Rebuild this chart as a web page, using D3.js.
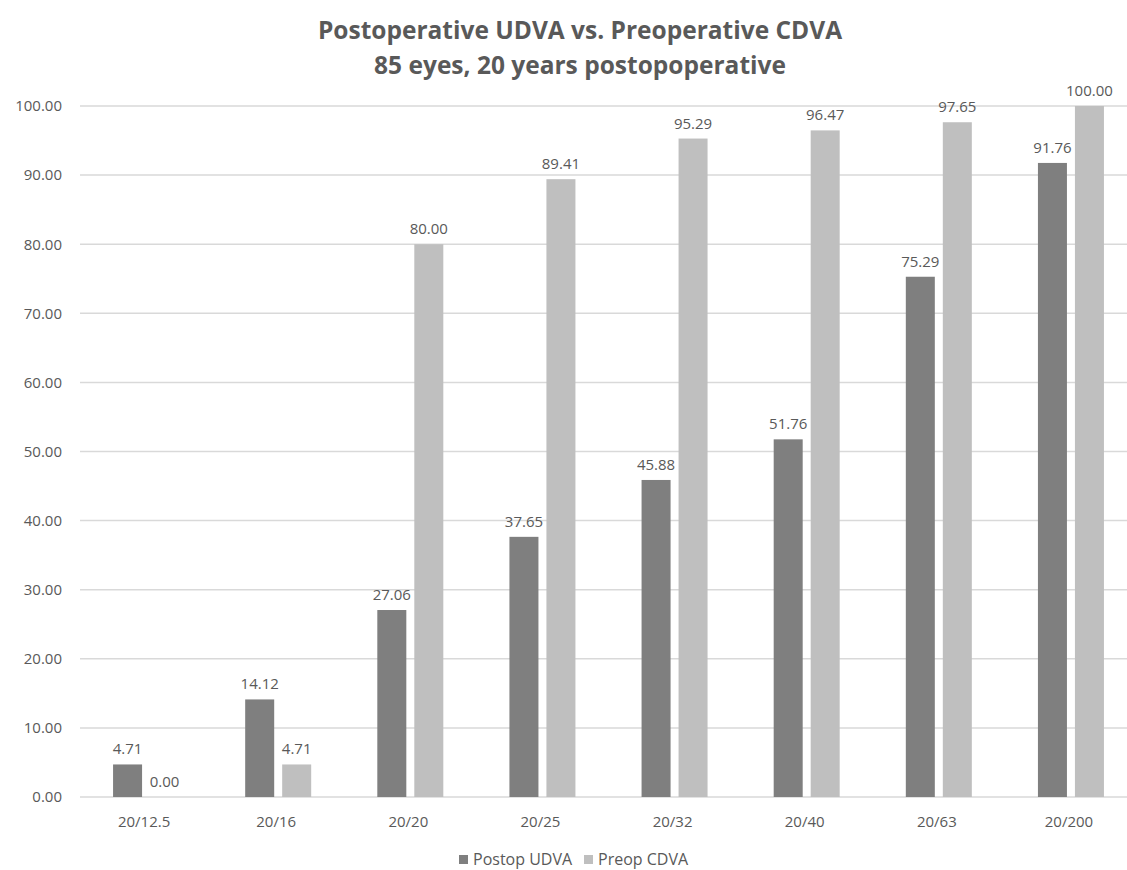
<!DOCTYPE html>
<html>
<head>
<meta charset="utf-8">
<script src="https://cdn.jsdelivr.net/npm/d3@7"></script>
<style>
  body { margin: 0; background: #fff; }
  text { font-family: "Open Sans", "Liberation Sans", sans-serif; fill: #595959; }
</style>
</head>
<body>
<svg class="chart" width="1127" height="870"></svg>
<script>
var categories = ["20/12.5", "20/16", "20/20", "20/25", "20/32", "20/40", "20/63", "20/200"];
var postopUDVA = [4.71, 14.12, 27.06, 37.65, 45.88, 51.76, 75.29, 91.76];
var preopCDVA = [0.00, 4.71, 80.00, 89.41, 95.29, 96.47, 97.65, 100.00];
var seriesNames = ["Postop UDVA", "Preop CDVA"];
var yTicks = [0, 10, 20, 30, 40, 50, 60, 70, 80, 90, 100];

var colors = ["#7f7f7f", "#bfbfbf"];

var svg = d3.select(".chart"),
  margin = { top: 106, right: -10, bottom: 73, left: 80 },
  width = +svg.attr("width") - margin.left - margin.right,
  height = +svg.attr("height") - margin.top - margin.bottom,
  g = svg.append("g").attr("transform", "translate(" + margin.left + "," + margin.top + ")");

var x = d3.scaleBand().domain(categories).range([0, width]);
var groupW = 66;
var x1 = d3.scaleBand().domain([0, 1]).range([0, groupW]).paddingInner(0.216);
var y = d3.scaleLinear().domain([0, 100]).range([height, 0]);

// title
svg.append("text")
  .attr("x", 580).attr("y", 39)
  .attr("text-anchor", "middle")
  .style("font-size", "24.5px").style("font-weight", "bold")
  .text("Postoperative UDVA vs. Preoperative CDVA");
svg.append("text")
  .attr("x", 580).attr("y", 74)
  .attr("text-anchor", "middle")
  .style("font-size", "24.5px").style("font-weight", "bold")
  .text("85 eyes, 20 years postopoperative");

// grid
g.append("g")
  .selectAll("line")
  .data(yTicks)
  .enter().append("line")
  .attr("x1", 0).attr("x2", width)
  .attr("y1", function(d) { return y(d); })
  .attr("y2", function(d) { return y(d); })
  .attr("stroke", "#d9d9d9")
  .attr("stroke-width", 1.5);

// y axis
var yAxis = g.append("g")
  .call(d3.axisLeft(y).tickValues(yTicks).tickSize(0).tickPadding(18)
    .tickFormat(function(d) { return d3.format(".2f")(d); }));
yAxis.select(".domain").remove();
yAxis.selectAll("text").style("font-size", "15px").attr("fill", "#595959");

// x axis
var xAxis = g.append("g")
  .attr("transform", "translate(0," + height + ")")
  .call(d3.axisBottom(x).tickSize(0).tickPadding(19));
xAxis.select(".domain").remove();
xAxis.selectAll("text").style("font-size", "15px").attr("fill", "#595959")
  .attr("dx", "-2");

var series = [postopUDVA, preopCDVA];
var groups = g.append("g")
  .selectAll("g")
  .data(categories)
  .enter().append("g")
  .attr("transform", function(d) {
    return "translate(" + (x(d) + x.bandwidth() / 2 - groupW / 2) + ",0)";
  });

groups.each(function(c, i) {
  var grp = d3.select(this);
  series.forEach(function(s, k) {
    grp.append("rect")
      .attr("x", x1(k))
      .attr("y", y(s[i]))
      .attr("width", x1.bandwidth())
      .attr("height", height - y(s[i]))
      .attr("fill", colors[k]);
    grp.append("text")
      .attr("x", x1(k) + x1.bandwidth() / 2)
      .attr("y", y(s[i]) - 10)
      .attr("text-anchor", "middle")
      .style("font-size", "15px")
      .text(d3.format(".2f")(s[i]));
  });
});

// legend
var legend = svg.append("g").attr("transform", "translate(459,855)");
seriesNames.forEach(function(n, k) {
  var lx = k * 125;
  legend.append("rect")
    .attr("x", lx).attr("y", 0)
    .attr("width", 9).attr("height", 9)
    .attr("fill", colors[k]);
  legend.append("text")
    .attr("x", lx + 14).attr("y", 10)
    .style("font-size", "16px")
    .text(n);
});
</script>
</body>
</html>
